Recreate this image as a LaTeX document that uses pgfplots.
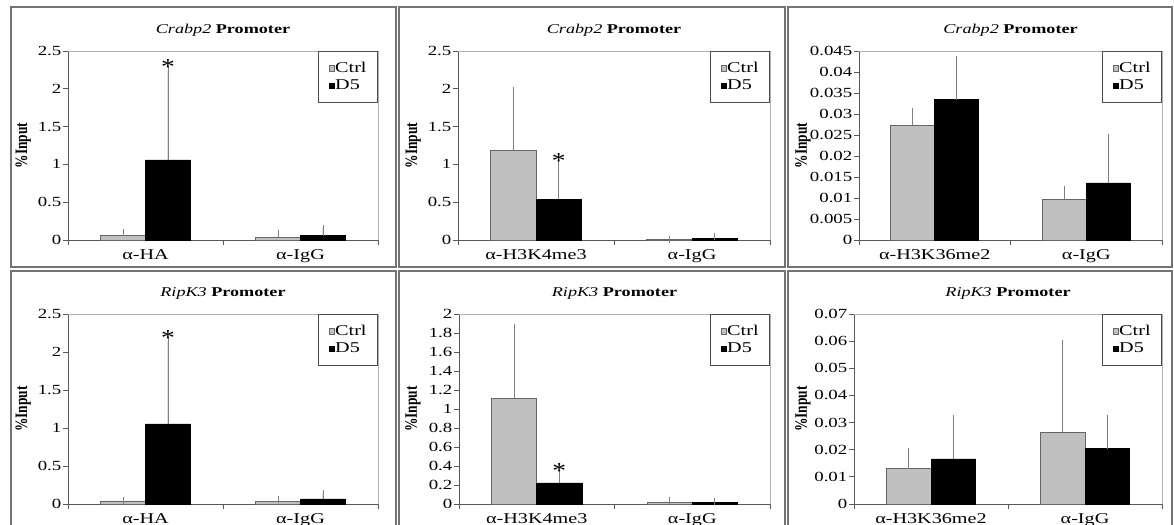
\documentclass[border=0pt]{standalone}
\usepackage{fontspec}
\setmainfont{Liberation Serif}[FakeStretch=1.35]
\newfontfamily\plainserif{Liberation Serif}
\usepackage{graphicx}
\usepackage{pgfplots}
\pgfplotsset{compat=1.18}
\newcommand\ticks{\fontsize{14}{16}\selectfont}
\newcommand\xlabs{\fontsize{15}{17}\selectfont}
\newcommand\legf{\fontsize{15}{17}\selectfont}
\newcommand\ttl{\plainserif\fontsize{13.5}{15}\selectfont}
\newcommand\ylab{\plainserif\bfseries\fontsize{13.5}{15}\selectfont}
\newcommand\ttltext[1]{\scalebox{1.35}[1]{\textit{#1} \textbf{Promoter}}}
\definecolor{ctrlgray}{HTML}{C0C0C0}
\pgfplotsset{
  panel/.style={
    scale only axis, anchor=south west,
    xmin=-0.5, xmax=1.5, ymin=0,
    enlargelimits=false, clip=false,
    axis x line*=bottom, axis y line*=left,
    axis line style={draw=black!65, line width=0.9bp, -},
    tick align=outside, major tick length=5bp, minor tick length=5bp,
    tick style={draw=black!65, line width=0.9bp},
    xtick={0,1},
    major x tick style={draw=none},
    minor xtick={-0.5,0.5,1.5},
    scaled y ticks=false,
    /pgf/number format/assume math mode=true,
    yticklabel style={/pgf/number format/fixed, /pgf/number format/precision=3, font=\ticks, inner sep=1.5bp},
    xticklabel style={font=\xlabs, yshift=-1bp},
    title style={at={(0.5,1)}, anchor=base, yshift=12bp, font=\ttl},
    ylabel={\%Input},
    ybar, bar width=0.29,
    legend style={at={(1,1)}, anchor=north east, draw=black!70, line width=0.8bp,
      font=\legf, minimum width=59bp, minimum height=51bp, inner xsep=2bp, inner ysep=2bp,
      row sep=4bp, legend cell align=left,
      nodes={inner xsep=1bp, inner ysep=1bp, minimum width=0pt, minimum height=0pt}},
    legend image code/.code={\draw[#1, line width=0.6bp] (0bp,-2.6bp) rectangle (5bp,2.6bp);},
    before end axis/.code={\draw[black!30, line width=0.8bp] (rel axis cs:0,1) -- (rel axis cs:1,1) -- (rel axis cs:1,0);},
  },
  ylabx/.style={ylabel style={at={(axis description cs:#1,0.5)}, anchor=center, font=\ylab, yscale=1.3}},
  ctrl/.style={fill=ctrlgray, draw=black!60, line width=0.7bp, bar shift=-0.145,
    error bars/.cd, y dir=plus, y explicit,
    error bar style={draw=black!50, line width=0.9bp},
    error mark options={draw=black!50, mark size=3.5bp, line width=0.9bp}},
  dfive/.style={fill=black, draw=black, line width=0.7bp, bar shift=0.145,
    error bars/.cd, y dir=plus, y explicit,
    error bar style={draw=black!50, line width=0.9bp},
    error mark options={draw=black!50, mark size=3.5bp, line width=0.9bp}},
}
\newcommand\sigstar[2]{\node[font=\plainserif\fontsize{23}{23}\selectfont, inner sep=0pt, anchor=center] at (axis cs:#1,#2) {\scalebox{1.2}[1]{*}};}
\begin{document}
\begin{tikzpicture}[x=1bp,y=1bp]
\useasboundingbox (0,0) rectangle (1174,525);
% panel frames
\begin{scope}[black!55, line width=1.2bp]
\draw (11,518) rectangle (396,258);
\draw (399,518) rectangle (785,258);
\draw (788,518) rectangle (1172,258);
\draw (11,254) rectangle (396,-5);
\draw (399,254) rectangle (785,-5);
\draw (788,254) rectangle (1172,-5);
\end{scope}

% Panel 1
\begin{axis}[panel, ylabx=-0.145, at={(68bp,285bp)}, width=310bp, height=189bp,
  ymax=2.5, ytick={0,0.5,...,2.5},
  xticklabels={α-HA,α-IgG},
  title={\ttltext{Crabp2}}]
\addplot[ctrl] coordinates {(0,0.06) +- (0,0.045) (1,0.035) +- (0,0.053)};
\addplot[dfive] coordinates {(0,1.06) +- (0,1.18) (1,0.057) +- (0,0.093)};
\legend{Ctrl,D5}
\sigstar{0.145}{2.29}
\end{axis}

% Panel 2
\begin{axis}[panel, ylabx=-0.144, at={(458bp,285bp)}, width=312bp, height=189bp,
  ymax=2.5, ytick={0,0.5,...,2.5}, xticklabels={α-H3K4me3,α-IgG},
  title={\ttltext{Crabp2}}]
\addplot[ctrl] coordinates {(0,1.18) +- (0,0.80) (1,0.006) +- (0,0.006)};
\addplot[dfive] coordinates {(0,0.54) +- (0,0.47) (1,0.02) +- (0,0.03)};
\legend{Ctrl,D5}
\sigstar{0.145}{1.05}
\end{axis}

% Panel 3
\begin{axis}[panel, ylabx=-0.185, at={(859bp,285bp)}, width=303bp, height=189bp,
  ymax=0.045, ytick={0,0.005,0.01,0.015,0.02,0.025,0.03,0.035,0.04,0.045},
  xticklabels={α-H3K36me2,α-IgG},
  title={\ttltext{Crabp2}}]
\addplot[ctrl] coordinates {(0,0.0273) +- (0,0.0033) (1,0.0097) +- (0,0.0024)};
\addplot[dfive] coordinates {(0,0.0334) +- (0,0.0096) (1,0.0136) +- (0,0.0107)};
\legend{Ctrl,D5}
\end{axis}

% Panel 4
\begin{axis}[panel, ylabx=-0.145, at={(68bp,21bp)}, width=310bp, height=190bp,
  ymax=2.5, ytick={0,0.5,...,2.5}, xticklabels={α-HA,α-IgG},
  title={\ttltext{RipK3}}]
\addplot[ctrl] coordinates {(0,0.04) +- (0,0.005) (1,0.035) +- (0,0.03)};
\addplot[dfive] coordinates {(0,1.054) +- (0,1.09) (1,0.066) +- (0,0.074)};
\legend{Ctrl,D5}
\sigstar{0.145}{2.19}
\end{axis}

% Panel 5
\begin{axis}[panel, ylabx=-0.148, at={(459bp,21bp)}, width=311bp, height=190bp,
  ymax=2, ytick={0,0.2,0.4,0.6,0.8,1,1.2,1.4,1.6,1.8,2}, xticklabels={α-H3K4me3,α-IgG},
  title={\ttltext{RipK3}}]
\addplot[ctrl] coordinates {(0,1.114) +- (0,0.74) (1,0.021) +- (0,0.021)};
\addplot[dfive] coordinates {(0,0.221) +- (0,0.10) (1,0.014) +- (0,0.014)};
\legend{Ctrl,D5}
\sigstar{0.145}{0.35}
\end{axis}

% Panel 6
\begin{axis}[panel, ylabx=-0.166, at={(854bp,21bp)}, width=308bp, height=190bp,
  ymax=0.07, ytick={0,0.01,0.02,0.03,0.04,0.05,0.06,0.07},
  xticklabels={α-H3K36me2,α-IgG},
  title={\ttltext{RipK3}}]
\addplot[ctrl] coordinates {(0,0.0130) +- (0,0.0062) (1,0.0265) +- (0,0.0327)};
\addplot[dfive] coordinates {(0,0.0166) +- (0,0.0148) (1,0.0204) +- (0,0.0111)};
\legend{Ctrl,D5}
\end{axis}
\end{tikzpicture}
\end{document}
